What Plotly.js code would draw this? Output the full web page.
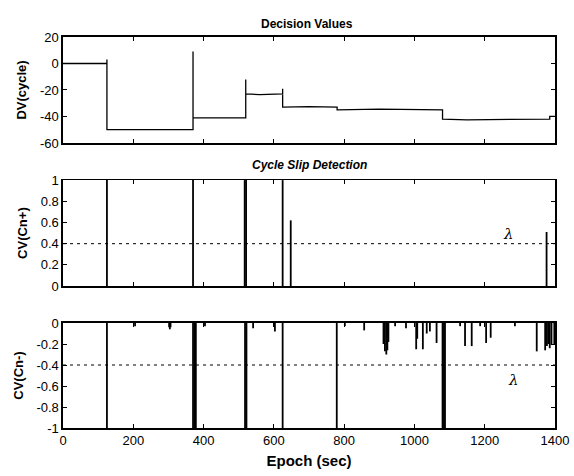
<!DOCTYPE html>
<html>
<head>
<meta charset="utf-8">
<script src="https://cdn.plot.ly/plotly-3.0.1.min.js"></script>
<style>html,body{margin:0;padding:0;background:#fff;}#chart{width:574px;height:476px;}</style>
</head>
<body>
<div id="chart"></div>
<script>
// Decision values (step curve with spikes at slips)
const dvEpoch = [0, 125, 125, 125, 370, 370, 370, 520, 520, 520, 560, 600, 625, 625, 625, 700, 780, 780, 900, 1080, 1080, 1150, 1300, 1385, 1385, 1400];
const dvValue = [0, 0, 3, -50, -50, 9, -41, -41, -12, -23, -23.5, -23, -23, -19, -33, -32.5, -33, -35, -34.5, -35, -42, -42.5, -42, -42, -40, -40];

// Cn+ detection spikes
const posEpoch = [125, 370, 517, 521, 625, 648, 1376];
const posCV    = [1, 1, 1, 1, 1, 0.62, 0.51];

// Cn- detection spikes
const negEpoch = [125, 205, 302, 304, 306, 370, 374, 378, 404, 518, 522, 541, 603, 625, 779, 802, 857,
                  912, 916, 920, 923, 926, 945, 976, 1005, 1008, 1024, 1035, 1044, 1063,
                  1080, 1084, 1087, 1130, 1144, 1163, 1187, 1204, 1217, 1286,
                  1348, 1372, 1377, 1381, 1385, 1390, 1398];
const negCV    = [-1, -0.03, -0.04, -0.06, -0.04, -1, -1, -1, -0.03, -1, -1, -0.05, -0.08, -1, -1, -0.03, -0.07,
                  -0.2, -0.27, -0.3, -0.26, -0.18, -0.03, -0.05, -0.25, -0.15, -0.25, -0.1, -0.08, -0.19,
                  -1, -1, -1, -0.03, -0.22, -0.22, -0.03, -0.19, -0.14, -0.03,
                  -0.27, -0.26, -0.22, -0.2, -0.24, -0.21, -0.2];

const lambdaPos = 0.4;
const lambdaNeg = -0.4;
const epochRange = [0, 1400];
const xTicks = [0, 200, 400, 600, 800, 1000, 1200, 1400];
const dvTicks = [20, 0, -20, -40, -60];
const posTicks = [0, 0.2, 0.4, 0.6, 0.8, 1];
const negTicks = [0, -0.2, -0.4, -0.6, -0.8, -1];

function stems(xs, ys) {
  const x = [], y = [];
  xs.forEach((e, i) => { x.push(e, e, null); y.push(0, ys[i], null); });
  return {x, y};
}

const sp = stems(posEpoch, posCV);
const sn = stems(negEpoch, negCV);
const black = '#000';

const traces = [
  {x: dvEpoch, y: dvValue, xaxis: 'x', yaxis: 'y', mode: 'lines', line: {color: black, width: 1.3}, hoverinfo: 'skip'},
  {x: sp.x, y: sp.y, xaxis: 'x2', yaxis: 'y2', mode: 'lines', line: {color: black, width: 1.8}, hoverinfo: 'skip'},
  {x: epochRange, y: [lambdaPos, lambdaPos], xaxis: 'x2', yaxis: 'y2', mode: 'lines', line: {color: black, width: 1, dash: '3px,4px'}, hoverinfo: 'skip'},
  {x: sn.x, y: sn.y, xaxis: 'x3', yaxis: 'y3', mode: 'lines', line: {color: black, width: 1.8}, hoverinfo: 'skip'},
  {x: epochRange, y: [lambdaNeg, lambdaNeg], xaxis: 'x3', yaxis: 'y3', mode: 'lines', line: {color: black, width: 1, dash: '3px,4px'}, hoverinfo: 'skip'}
];

const tickFont = {family: 'Liberation Sans, Arial, sans-serif', size: 13, color: black};
const titleFont = {family: 'Liberation Sans, Arial, sans-serif', size: 13, color: black, weight: 'bold'};

function xa(anchor, labels) {
  return {anchor: anchor, range: epochRange, tickvals: xTicks, ticktext: xTicks.map(String), showticklabels: labels,
    ticks: 'inside', ticklen: 4, tickcolor: black, tickwidth: 1, mirror: 'ticks', showline: true, linecolor: black, linewidth: 1.6,
    showgrid: false, zeroline: false, tickfont: tickFont, fixedrange: true};
}
function ya(anchor, domain, range, ticks, title) {
  return {anchor: anchor, domain: domain, range: range, tickvals: ticks, ticktext: ticks.map(String),
    ticks: 'inside', ticklen: 4, tickcolor: black, tickwidth: 1, mirror: 'ticks', showline: true, linecolor: black, linewidth: 1.6,
    showgrid: false, zeroline: false, tickfont: tickFont, title: {text: title, font: titleFont, standoff: 10}, fixedrange: true};
}

const x1 = xa('y', false);
const x2 = xa('y2', false);
const x3 = xa('y3', true);
x3.title = {text: 'Epoch (sec)', font: {family: 'Liberation Sans, Arial, sans-serif', size: 15, color: black, weight: 'bold'}, standoff: 8};

const layout = {
  width: 574, height: 476,
  margin: {l: 63, r: 19, t: 37, b: 48},
  paper_bgcolor: '#fff', plot_bgcolor: '#fff',
  showlegend: false,
  xaxis: x1, xaxis2: x2, xaxis3: x3,
  yaxis: ya('x', [0.729, 1], [-60, 20], dvTicks, 'DV(cycle)'),
  yaxis2: ya('x2', [0.363, 0.634], [0, 1], posTicks, 'CV(Cn+)'),
  yaxis3: ya('x3', [0, 0.2685], [-1, 0], negTicks, 'CV(Cn-)'),
  annotations: [
    {text: '<b>Decision Values</b>', xref: 'paper', yref: 'paper', x: 0.495, y: 1.0, yshift: 4, xanchor: 'center', yanchor: 'bottom', showarrow: false,
     font: {family: 'Liberation Sans, Arial, sans-serif', size: 12, color: black}},
    {text: '<b><i>Cycle Slip Detection</i></b>', xref: 'paper', yref: 'paper', x: 0.50, y: 0.634, yshift: 6, xanchor: 'center', yanchor: 'bottom', showarrow: false,
     font: {family: 'Liberation Sans, Arial, sans-serif', size: 12, color: black}},
    {text: '<i>λ</i>', xref: 'x2', yref: 'y2', x: 1269, y: 0.49, showarrow: false, font: {family: 'DejaVu Serif, serif', size: 15, color: black}},
    {text: '<i>λ</i>', xref: 'x3', yref: 'y3', x: 1281, y: -0.54, showarrow: false, font: {family: 'DejaVu Serif, serif', size: 15, color: black}}
  ]
};

Plotly.newPlot('chart', traces, layout, {displayModeBar: false, staticPlot: true});
</script>
</body>
</html>
